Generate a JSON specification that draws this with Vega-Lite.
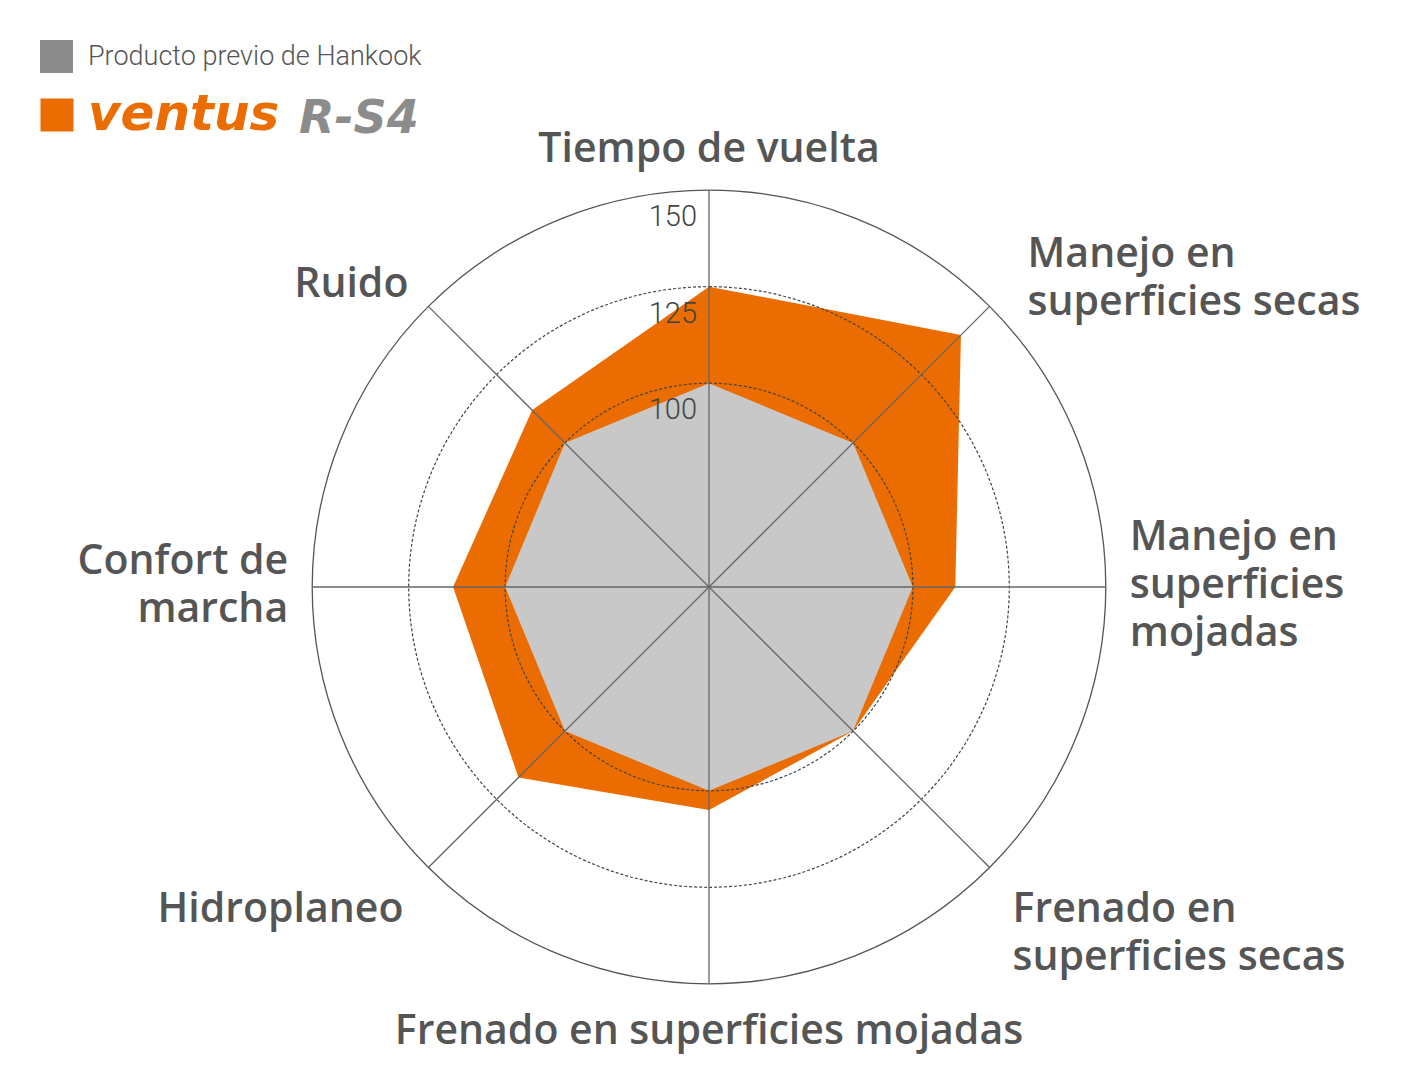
{
  "$schema": "https://vega.github.io/schema/vega-lite/v6.json",
  "width": 1416,
  "height": 1072,
  "padding": 0,
  "autosize": {"type": "none"},
  "background": "white",
  "config": {"view": {"stroke": null}},
  "resolve": {"scale": {"fill": "independent", "opacity": "independent"}},
  "datasets": {
    "ejes": [
      {"i": 0, "eje": "Tiempo de vuelta"},
      {"i": 1, "eje": "Manejo en\nsuperficies secas"},
      {"i": 2, "eje": "Manejo en\nsuperficies\nmojadas"},
      {"i": 3, "eje": "Frenado en\nsuperficies secas"},
      {"i": 4, "eje": "Frenado en superficies mojadas"},
      {"i": 5, "eje": "Hidroplaneo"},
      {"i": 6, "eje": "Confort de\nmarcha"},
      {"i": 7, "eje": "Ruido"}
    ],
    "puntuaciones": [
      {"serie": "Producto previo de Hankook", "i": 0, "valor": 100},
      {"serie": "Producto previo de Hankook", "i": 1, "valor": 100},
      {"serie": "Producto previo de Hankook", "i": 2, "valor": 100},
      {"serie": "Producto previo de Hankook", "i": 3, "valor": 100},
      {"serie": "Producto previo de Hankook", "i": 4, "valor": 100},
      {"serie": "Producto previo de Hankook", "i": 5, "valor": 100},
      {"serie": "Producto previo de Hankook", "i": 6, "valor": 100},
      {"serie": "Producto previo de Hankook", "i": 7, "valor": 100},
      {"serie": "ventus R-S4", "i": 0, "valor": 125},
      {"serie": "ventus R-S4", "i": 1, "valor": 139.5},
      {"serie": "ventus R-S4", "i": 2, "valor": 111},
      {"serie": "ventus R-S4", "i": 3, "valor": 100},
      {"serie": "ventus R-S4", "i": 4, "valor": 105},
      {"serie": "ventus R-S4", "i": 5, "valor": 117},
      {"serie": "ventus R-S4", "i": 6, "valor": 113.5},
      {"serie": "ventus R-S4", "i": 7, "valor": 112}
    ],
    "anillos": [
      {"nivel": 100},
      {"nivel": 125},
      {"nivel": 150}
    ]
  },
  "layer": [
    {
      "data": {"name": "puntuaciones"},
      "transform": [
        {"filter": "datum.serie == 'ventus R-S4'"},
        {"calculate": "(datum.valor - 47.2) * sin(datum.i * PI / 4)", "as": "px"},
        {"calculate": "(datum.valor - 47.2) * cos(datum.i * PI / 4)", "as": "py"}
      ],
      "mark": {"type": "line", "interpolate": "linear-closed", "stroke": null},
      "encoding": {
        "x": {"field": "px", "type": "quantitative", "axis": null,
              "scale": {"domain": [-183.68, 183.16], "nice": false, "zero": false}},
        "y": {"field": "py", "type": "quantitative", "axis": null,
              "scale": {"domain": [-125.65, 152.07], "nice": false, "zero": false}},
        "order": {"field": "i", "type": "quantitative"},
        "fill": {
          "field": "serie", "type": "nominal",
          "scale": {"domain": ["ventus R-S4"], "range": ["#eb6c00"]},
          "legend": {
            "orient": "none", "legendX": 32, "legendY": 90, "title": null, "padding": 0,
            "symbolType": "square", "symbolSize": 1089, "symbolStrokeWidth": 0, "symbolOpacity": 1,
            "labelExpr": "'ventus'",
            "labelFont": "DejaVu Sans", "labelFontSize": 50, "labelFontStyle": "italic",
            "labelFontWeight": "bold", "labelColor": "#eb6c00",
            "labelOffset": 6, "labelLimit": 600
          }
        }
      }
    },
    {
      "data": {"name": "puntuaciones"},
      "transform": [
        {"filter": "datum.serie == 'Producto previo de Hankook'"},
        {"calculate": "(datum.valor - 47.2) * sin(datum.i * PI / 4)", "as": "px"},
        {"calculate": "(datum.valor - 47.2) * cos(datum.i * PI / 4)", "as": "py"}
      ],
      "mark": {"type": "line", "interpolate": "linear-closed", "stroke": null},
      "encoding": {
        "x": {"field": "px", "type": "quantitative", "axis": null,
              "scale": {"domain": [-183.68, 183.16], "nice": false, "zero": false}},
        "y": {"field": "py", "type": "quantitative", "axis": null,
              "scale": {"domain": [-125.65, 152.07], "nice": false, "zero": false}},
        "order": {"field": "i", "type": "quantitative"},
        "fill": {
          "field": "serie", "type": "nominal",
          "scale": {"domain": ["Producto previo de Hankook"], "range": ["#c8c8c8"]},
          "legend": {
            "orient": "none", "legendX": 40, "legendY": 40, "title": null, "padding": 0,
            "symbolType": "square", "symbolSize": 9, "symbolOpacity": 1,
            "symbolStrokeWidth": 30, "symbolStrokeColor": "#8c8c8c",
            "labelFont": "Roboto", "labelFontSize": 27, "labelFontWeight": 300, "labelColor": "#555555",
            "labelOffset": 15, "labelLimit": 600
          }
        }
      }
    },
    {
      "data": {"name": "anillos"},
      "transform": [{"filter": "datum.nivel < 150"}],
      "mark": {"type": "arc", "theta": 0, "theta2": 6.2832, "filled": false,
               "stroke": "#444444", "strokeWidth": 1.2, "strokeDash": [3, 2]},
      "encoding": {
        "x": {"datum": 0, "type": "quantitative"},
        "y": {"datum": 0, "type": "quantitative"},
        "radius": {"field": "nivel", "type": "quantitative", "stack": null,
                   "scale": {"type": "linear", "domain": [47.2, 150], "range": [0, 396.8], "zero": false}}
      }
    },
    {
      "data": {"name": "anillos"},
      "transform": [{"filter": "datum.nivel == 150"}],
      "mark": {"type": "arc", "theta": 0, "theta2": 6.2832, "filled": false,
               "stroke": "#555555", "strokeWidth": 1.3},
      "encoding": {
        "x": {"datum": 0, "type": "quantitative"},
        "y": {"datum": 0, "type": "quantitative"},
        "radius": {"field": "nivel", "type": "quantitative", "stack": null,
                   "scale": {"type": "linear", "domain": [47.2, 150], "range": [0, 396.8], "zero": false}}
      }
    },
    {
      "data": {"name": "anillos"},
      "transform": [{"calculate": "datum.nivel - 47.2", "as": "py"}],
      "mark": {"type": "text", "align": "right", "baseline": "middle", "dx": -12, "dy": 27,
               "font": "Roboto", "fontWeight": 300, "fontSize": 29, "color": "#444444"},
      "encoding": {
        "x": {"datum": 0, "type": "quantitative"},
        "y": {"field": "py", "type": "quantitative"},
        "text": {"field": "nivel", "type": "quantitative"}
      }
    },
    {
      "data": {"name": "ejes"},
      "transform": [
        {"calculate": "(150 - 47.2) * sin(datum.i * PI / 4)", "as": "ex"},
        {"calculate": "(150 - 47.2) * cos(datum.i * PI / 4)", "as": "ey"}
      ],
      "encoding": {
        "x": {"field": "ex", "type": "quantitative"},
        "y": {"field": "ey", "type": "quantitative"},
        "text": {"field": "eje"}
      },
      "layer": [
        {
          "mark": {"type": "rule", "stroke": "#666666", "strokeWidth": 1.3},
          "encoding": {
            "x": {"datum": 0, "type": "quantitative"},
            "y": {"datum": 0, "type": "quantitative"},
            "x2": {"field": "ex"},
            "y2": {"field": "ey"},
            "text": null,
            "opacity": {
              "datum": "R-S4", "type": "nominal",
              "scale": {"domain": ["R-S4"], "range": [1, 1]},
              "legend": {
                "orient": "none", "legendX": 253, "legendY": 96, "title": null, "padding": 0,
                "symbolOpacity": 0, "symbolSize": 1, "symbolStrokeWidth": 0, "labelOffset": 0,
                "labelFont": "DejaVu Sans", "labelFontSize": 46, "labelFontStyle": "italic",
                "labelFontWeight": "bold", "labelColor": "#8c8c8c"
              }
            }
          }
        },
        {
          "transform": [{"filter": "datum.i == 0"}],
          "mark": {"type": "text", "align": "center", "baseline": "middle", "dy": -40,
                   "font": "Open Sans", "fontWeight": 600, "fontSize": 41, "color": "#555555", "lineBreak": "\n", "lineHeight": 48}
        },
        {
          "transform": [{"filter": "datum.i == 1"}],
          "mark": {"type": "text", "align": "left", "baseline": "middle", "dx": 38, "dy": -51,
                   "font": "Open Sans", "fontWeight": 600, "fontSize": 41, "color": "#555555", "lineBreak": "\n", "lineHeight": 48}
        },
        {
          "transform": [{"filter": "datum.i == 2"}],
          "mark": {"type": "text", "align": "left", "baseline": "middle", "dx": 24, "dy": -49,
                   "font": "Open Sans", "fontWeight": 600, "fontSize": 41, "color": "#555555", "lineBreak": "\n", "lineHeight": 48}
        },
        {
          "transform": [{"filter": "datum.i == 3"}],
          "mark": {"type": "text", "align": "left", "baseline": "middle", "dx": 23, "dy": 42,
                   "font": "Open Sans", "fontWeight": 600, "fontSize": 41, "color": "#555555", "lineBreak": "\n", "lineHeight": 48}
        },
        {
          "transform": [{"filter": "datum.i == 4"}],
          "mark": {"type": "text", "align": "center", "baseline": "middle", "dy": 48,
                   "font": "Open Sans", "fontWeight": 600, "fontSize": 41, "color": "#555555", "lineBreak": "\n", "lineHeight": 48}
        },
        {
          "transform": [{"filter": "datum.i == 5"}],
          "mark": {"type": "text", "align": "right", "baseline": "middle", "dx": -25, "dy": 42,
                   "font": "Open Sans", "fontWeight": 600, "fontSize": 41, "color": "#555555", "lineBreak": "\n", "lineHeight": 48}
        },
        {
          "transform": [{"filter": "datum.i == 6"}],
          "mark": {"type": "text", "align": "right", "baseline": "middle", "dx": -24, "dy": -25,
                   "font": "Open Sans", "fontWeight": 600, "fontSize": 41, "color": "#555555", "lineBreak": "\n", "lineHeight": 48}
        },
        {
          "transform": [{"filter": "datum.i == 7"}],
          "mark": {"type": "text", "align": "right", "baseline": "middle", "dx": -20, "dy": -21,
                   "font": "Open Sans", "fontWeight": 600, "fontSize": 41, "color": "#555555", "lineBreak": "\n", "lineHeight": 48}
        }
      ]
    }
  ]
}
